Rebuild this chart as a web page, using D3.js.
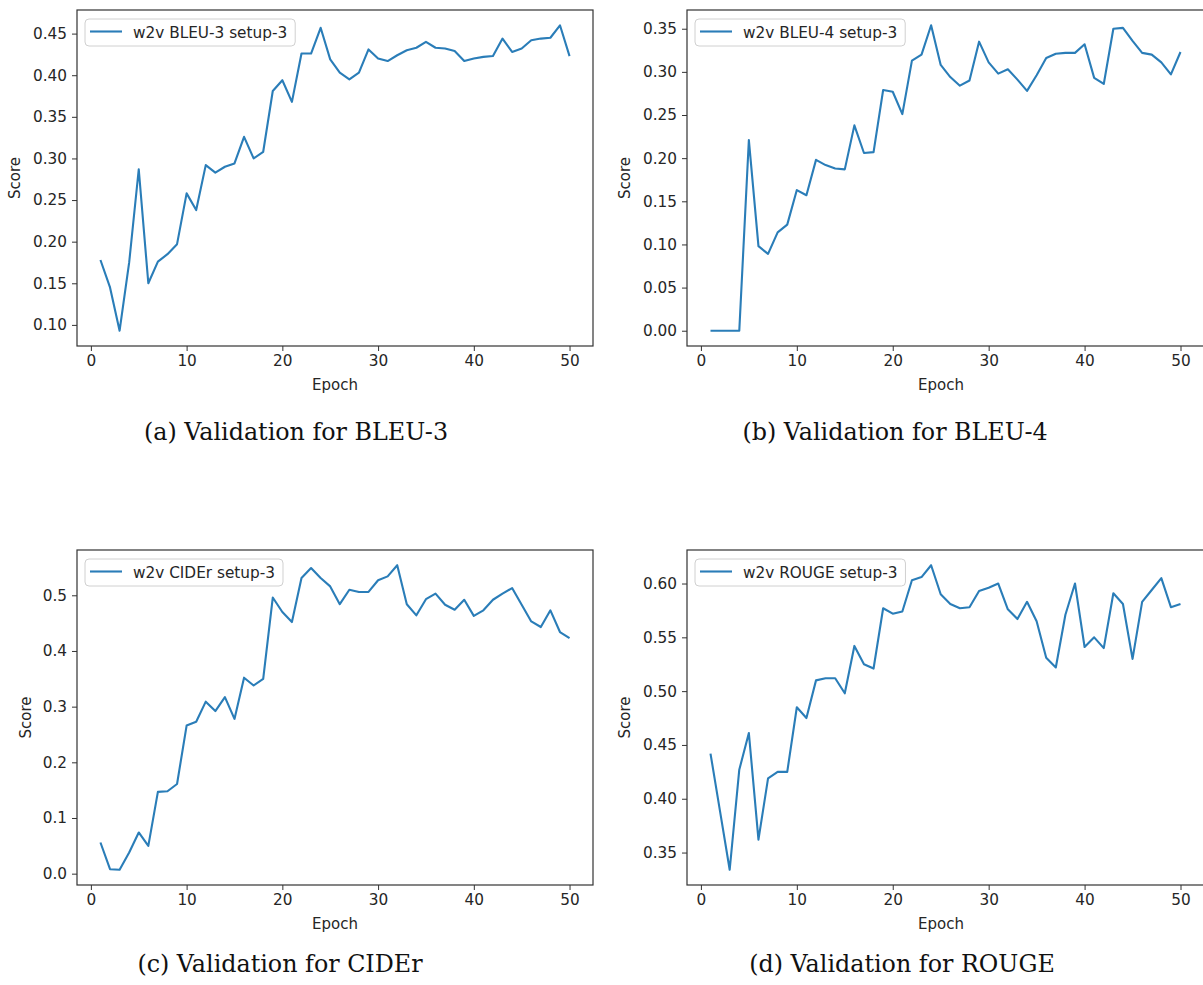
<!DOCTYPE html>
<html>
<head>
<meta charset="utf-8">
<script src="https://cdn.jsdelivr.net/npm/d3@7"></script>
<style>
  body { margin: 0; background: #fff; }
  svg { display: block; }
  .tick text { font-family: "DejaVu Sans", sans-serif; font-size: 15.3px; fill: #262626; }
  .axlabel { font-family: "DejaVu Sans", sans-serif; font-size: 15px; fill: #262626; }
  .legend text { font-family: "DejaVu Sans", sans-serif; font-size: 15.3px; fill: #262626; }
  .caption { font-family: "DejaVu Serif", serif; font-size: 23.8px; fill: #111; }
</style>
</head>
<body>
<div id="chart"></div>
<script>
// epochs shared by every panel
var epochs = [1,2,3,4,5,6,7,8,9,10,11,12,13,14,15,16,17,18,19,20,
              21,22,23,24,25,26,27,28,29,30,31,32,33,34,35,36,37,38,39,40,
              41,42,43,44,45,46,47,48,49,50];

// values
var bleu3 = [0.178,0.145,0.093,0.175,0.287,0.150,0.176,0.185,0.197,0.258,
             0.238,0.292,0.283,0.290,0.294,0.326,0.300,0.308,0.381,0.394,
             0.368,0.426,0.426,0.457,0.419,0.403,0.395,0.403,0.431,0.420,
             0.417,0.424,0.430,0.433,0.440,0.433,0.432,0.429,0.417,0.420,
             0.422,0.423,0.444,0.428,0.432,0.442,0.444,0.445,0.460,0.423];

var bleu4 = [0,0,0,0,0.221,0.098,0.089,0.114,0.123,0.163,
             0.157,0.198,0.192,0.188,0.187,0.238,0.206,0.207,0.279,0.277,
             0.251,0.313,0.320,0.354,0.308,0.294,0.284,0.290,0.335,0.311,
             0.298,0.303,0.291,0.278,0.296,0.316,0.321,0.322,0.322,0.332,
             0.293,0.286,0.350,0.351,0.336,0.322,0.320,0.311,0.297,0.323];

var cider = [0.056,0.008,0.007,0.038,0.074,0.050,0.147,0.148,0.161,0.266,
             0.273,0.309,0.292,0.317,0.278,0.352,0.338,0.350,0.496,0.470,
             0.452,0.531,0.549,0.531,0.516,0.484,0.510,0.506,0.506,0.527,
             0.534,0.554,0.484,0.464,0.493,0.503,0.483,0.474,0.492,0.463,
             0.473,0.492,0.503,0.513,0.483,0.453,0.443,0.473,0.434,0.423];

var rouge = [0.442,0.388,0.334,0.427,0.461,0.362,0.419,0.425,0.425,0.485,
             0.475,0.510,0.512,0.512,0.498,0.542,0.525,0.521,0.577,0.572,
             0.574,0.603,0.606,0.617,0.590,0.581,0.577,0.578,0.593,0.596,
             0.600,0.576,0.567,0.583,0.565,0.531,0.522,0.571,0.600,0.541,
             0.550,0.540,0.591,0.581,0.530,0.583,0.594,0.605,0.578,0.581];

var xTicks = [0, 10, 20, 30, 40, 50];
var ticksA = [0.10, 0.15, 0.20, 0.25, 0.30, 0.35, 0.40, 0.45];
var ticksB = [0.00, 0.05, 0.10, 0.15, 0.20, 0.25, 0.30, 0.35];
var ticksC = [0.0, 0.1, 0.2, 0.3, 0.4, 0.5];
var ticksD = [0.35, 0.40, 0.45, 0.50, 0.55, 0.60];

var labels = ["w2v BLEU-3 setup-3", "w2v BLEU-4 setup-3", "w2v CIDEr setup-3", "w2v ROUGE setup-3"];
var captions = ["(a) Validation for BLEU-3", "(b) Validation for BLEU-4",
                "(c) Validation for CIDEr", "(d) Validation for ROUGE"];

var width = 1203, height = 985;

var svg = d3.select("#chart").append("svg")
    .attr("width", width)
    .attr("height", height);

// panel frames (pixel boxes of the matplotlib axes)
var panels = [
  {values: bleu3, ticks: ticksA, fmt: ".2f", box: [77, 10, 593, 346], scoreX: 15, cap: [296, 440]},
  {values: bleu4, ticks: ticksB, fmt: ".2f", box: [687, 10, 1204, 346], scoreX: 625, cap: [895, 440]},
  {values: cider, ticks: ticksC, fmt: ".1f", box: [77, 550, 593, 885], scoreX: 26, cap: [280, 972]},
  {values: rouge, ticks: ticksD, fmt: ".2f", box: [687, 550, 1204, 885], scoreX: 625, cap: [902, 972]}
];

panels.forEach(function(p, i) {
  var b = p.box;

  // matplotlib style autoscale: 5% margin each side
  var xr = d3.extent(epochs), xpad = (xr[1] - xr[0]) * 0.05;
  var yr = d3.extent(p.values), ypad = (yr[1] - yr[0]) * 0.05;

  var x = d3.scaleLinear()
    .domain([xr[0] - xpad, xr[1] + xpad])
    .range([b[0], b[2]]);

  var y = d3.scaleLinear()
    .domain([yr[0] - ypad, yr[1] + ypad])
    .range([b[3], b[1]]);

  var g = svg.append("g");

  // x axis
  var xa = g.append("g")
    .attr("transform", "translate(0," + b[3] + ")")
    .call(d3.axisBottom(x).tickValues(xTicks).tickSize(5).tickPadding(4).tickFormat(d3.format("d")));
  xa.select(".domain").remove();

  // y axis
  var ya = g.append("g")
    .attr("transform", "translate(" + b[0] + ",0)")
    .call(d3.axisLeft(y).tickValues(p.ticks).tickSize(5).tickPadding(5).tickFormat(d3.format(p.fmt)));
  ya.select(".domain").remove();

  g.selectAll(".tick line").attr("stroke", "#333").attr("stroke-width", 1);

  // line
  var line = d3.line()
    .x(function(d, j) { return x(epochs[j]); })
    .y(function(d) { return y(d); });

  g.append("path")
    .datum(p.values)
    .attr("fill", "none")
    .attr("stroke", "#2a7db8")
    .attr("stroke-width", 2.1)
    .attr("stroke-linejoin", "round")
    .attr("d", line);

  // frame
  g.append("rect")
    .attr("x", b[0]).attr("y", b[1])
    .attr("width", b[2] - b[0]).attr("height", b[3] - b[1])
    .attr("fill", "none")
    .attr("stroke", "#333")
    .attr("stroke-width", 1.2);

  // axis labels
  g.append("text")
    .attr("class", "axlabel")
    .attr("x", (b[0] + Math.min(b[2], width)) / 2 + (i % 2 ? -4 : 0))
    .attr("y", b[3] + 44)
    .attr("text-anchor", "middle")
    .text("Epoch");

  g.append("text")
    .attr("class", "axlabel")
    .attr("transform", "translate(" + (p.scoreX + 5) + "," + ((b[1] + b[3]) / 2) + ") rotate(-90)")
    .attr("text-anchor", "middle")
    .text("Score");

  // legend
  var lg = g.append("g").attr("class", "legend")
    .attr("transform", "translate(" + (b[0] + 8) + "," + (b[1] + 9) + ")");
  var box = lg.append("rect")
    .attr("rx", 4).attr("ry", 4)
    .attr("height", 27)
    .attr("fill", "#fff")
    .attr("fill-opacity", 0.8)
    .attr("stroke", "#d0d0d0")
    .attr("stroke-width", 1);
  lg.append("line")
    .attr("x1", 5).attr("x2", 37)
    .attr("y1", 12.5).attr("y2", 12.5)
    .attr("stroke", "#2a7db8")
    .attr("stroke-width", 2.1);
  var lt = lg.append("text")
    .attr("x", 48)
    .attr("y", 18.5)
    .text(labels[i]);
  box.attr("width", 48 + lt.node().getComputedTextLength() + 8);

  // caption
  svg.append("text")
    .attr("class", "caption")
    .attr("x", p.cap[0])
    .attr("y", p.cap[1])
    .attr("text-anchor", "middle")
    .text(captions[i]);
});
</script>
</body>
</html>
